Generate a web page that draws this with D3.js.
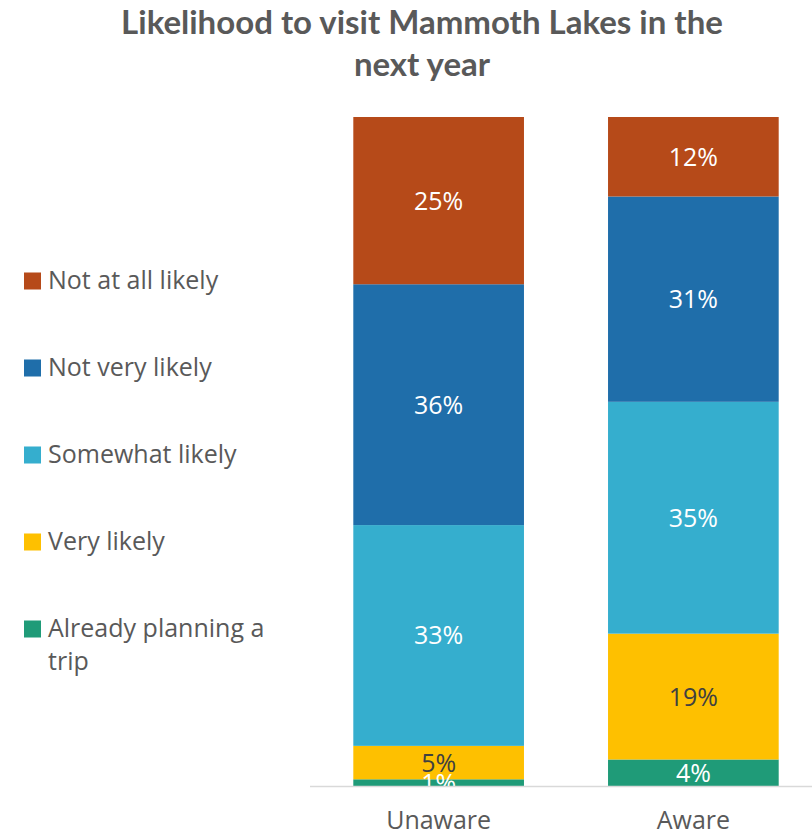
<!DOCTYPE html>
<html>
<head>
<meta charset="utf-8">
<script src="https://cdn.jsdelivr.net/npm/d3@7"></script>
<style>
  html, body { margin: 0; padding: 0; background: #ffffff; }
  svg { display: block; }
</style>
</head>
<body>
<svg id="chart" width="812" height="835"></svg>
<script>
// ---- Data ----
const categories = ["Unaware", "Aware"];
const seriesNames = ["Already planning a trip", "Very likely", "Somewhat likely", "Not very likely", "Not at all likely"];
const alreadyPlanning = [1, 4];
const veryLikely = [5, 19];
const somewhatLikely = [33, 35];
const notVeryLikely = [36, 31];
const notAtAllLikely = [25, 12];
const seriesColors = ["#1f9b78", "#fec000", "#35aece", "#1f6eaa", "#b64a19"];
const labelColors = ["#ffffff", "#404040", "#ffffff", "#ffffff", "#ffffff"];
const titleLines = ["Likelihood to visit Mammoth Lakes in the", "next year"];

const seriesValues = [alreadyPlanning, veryLikely, somewhatLikely, notVeryLikely, notAtAllLikely];

// table for d3.stack
const table = categories.map((c, i) => {
  const row = { category: c };
  seriesNames.forEach((s, k) => { row[s] = seriesValues[k][i]; });
  return row;
});

const stack = d3.stack().keys(seriesNames).offset(d3.stackOffsetExpand);
const stacked = stack(table);

const svg = d3.select("#chart");

const x = d3.scaleBand()
  .domain(categories)
  .range([310, 822])
  .paddingInner(0.33)
  .paddingOuter(0.17);

const y = d3.scaleLinear().domain([0, 1]).range([786, 117]);

// clip for plot area (labels are clipped at the baseline)
svg.append("defs").append("clipPath").attr("id", "plotClip")
  .append("rect")
  .attr("x", x.range()[0]).attr("y", y(1) - 20)
  .attr("width", x.range()[1] - x.range()[0])
  .attr("height", y(0) - y(1) + 20);

// Title
const title = svg.append("g");
titleLines.forEach((t, i) => {
  title.append("text")
    .attr("x", 422)
    .attr("y", 34 + i * 42)
    .attr("text-anchor", "middle")
    .attr("font-family", "Lato, 'Open Sans', sans-serif")
    .attr("font-weight", "bold")
    .attr("font-size", 33)
    .attr("fill", "#595959")
    .text(t);
});

// Bars
const layers = svg.append("g").selectAll("g")
  .data(stacked)
  .join("g")
  .attr("fill", (d, k) => seriesColors[k]);

layers.selectAll("rect")
  .data(d => d)
  .join("rect")
  .attr("x", d => x(d.data.category))
  .attr("width", x.bandwidth())
  .attr("y", d => y(d[1]))
  .attr("height", d => y(d[0]) - y(d[1]));

// Data labels
const labelG = svg.append("g").attr("clip-path", "url(#plotClip)");
stacked.forEach((layer, k) => {
  layer.forEach((d, i) => {
    labelG.append("text")
      .attr("x", x(d.data.category) + x.bandwidth() / 2)
      .attr("y", (y(d[0]) + y(d[1])) / 2)
      .attr("dy", "0.36em")
      .attr("text-anchor", "middle")
      .attr("font-family", "'Open Sans', sans-serif")
      .attr("font-size", 25)
      .attr("fill", labelColors[k])
      .text(seriesValues[k][i] + "%");
  });
});

// Baseline
svg.append("line")
  .attr("x1", x.range()[0]).attr("x2", x.range()[1])
  .attr("y1", y(0) + 0.5).attr("y2", y(0) + 0.5)
  .attr("stroke", "#d9d9d9")
  .attr("stroke-width", 1.5);

// Category axis labels
const xAxis = d3.axisBottom(x).tickSize(0).tickPadding(0);
const axisG = svg.append("g")
  .attr("transform", `translate(0, ${y(0)})`)
  .call(xAxis);
axisG.select(".domain").remove();
axisG.selectAll("text")
  .attr("y", 43)
  .attr("dy", 0)
  .attr("font-family", "'Open Sans', sans-serif")
  .attr("font-size", 25)
  .attr("fill", "#595959");

// Legend (top to bottom: reverse order)
const legendItems = seriesNames.map((s, k) => ({ name: s, color: seriesColors[k] })).reverse();
const legend = svg.append("g");
const legendLines = {
  "Already planning a trip": ["Already planning a", "trip"]
};
legendItems.forEach((item, j) => {
  const cy = 281 + j * 87;
  legend.append("rect")
    .attr("x", 24).attr("y", cy - 8.5)
    .attr("width", 17).attr("height", 17)
    .attr("fill", item.color);
  const lines = legendLines[item.name] || [item.name];
  const tx = legend.append("text")
    .attr("font-family", "'Open Sans', sans-serif")
    .attr("font-size", 25)
    .attr("fill", "#595959");
  lines.forEach((ln, li) => {
    tx.append("tspan")
      .attr("x", 48)
      .attr("y", cy + 8 + li * 33)
      .text(ln);
  });
});
</script>
</body>
</html>
